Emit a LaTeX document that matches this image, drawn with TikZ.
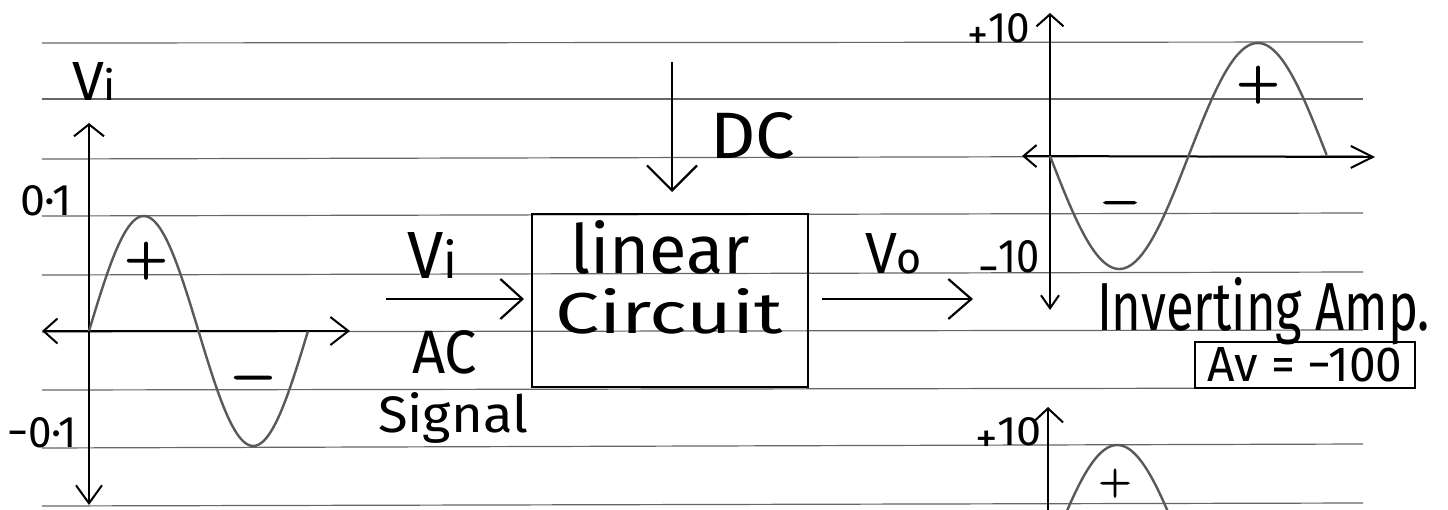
\documentclass[tikz,border=0pt]{standalone}
\usepackage{fontspec}
\newfontfamily\hand{Fira Sans}
\newfontfamily\signfont{Latin Modern Sans}[FakeBold=3]
\usetikzlibrary{arrows.meta}
\newcommand\fitt[3]{\resizebox{#1pt}{#2pt}{#3}}
\begin{document}
\begin{tikzpicture}[x=1pt,y=-1pt,
  every node/.style={inner sep=0pt, outer sep=0pt},
  txt/.style={font=\hand\fontsize{40}{44}\selectfont, anchor=base west},
  signmark/.style={font=\signfont\fontsize{58}{58}\selectfont, anchor=mid},
  rule/.style={black!60, line width=1.2pt},
  axis/.style={black, line width=2pt},
  wave/.style={black!65, line width=2.4pt},
  arr/.style={black, line width=2.2pt},
  boxline/.style={draw=black, line width=1.8pt}]
\useasboundingbox (0,0) rectangle (1448,509);
\fill[white] (0,0) rectangle (1448,509);

% ruled paper
\foreach \yl/\yr in {43/42, 99/99, 159/156, 216/213, 275/272, 332/330, 390/388, 448/444, 506/503}
  \draw[rule] (42,\yl) -- (1363,\yr);

% ---------- left graph (input) ----------
\coordinate (LvT) at (89,123);
\coordinate (LvB) at (89,505);
\coordinate (LhL) at (42,331);
\coordinate (LhR) at (350,331);
\draw[axis, {Straight Barb[length=12pt,width=30pt]}-{Straight Barb[length=18pt,width=26pt]}] (LvT) -- (LvB);
\draw[axis, {Straight Barb[length=14pt,width=25pt]}-{Straight Barb[length=18pt,width=28pt]}] (LhL) -- (LhR);
\draw[wave] plot[domain=0:1, samples=90, smooth] ({89+219*\x},{331-115*sin(360*\x)});
\node[txt] (viL) at (72,100) {\fitt{44}{38}{V{\fontsize{30}{30}\selectfont i}}};
\node[txt] (p01) at (20,215) {\fitt{52}{30}{0·1}};
\node[txt] (m01) at (7,447) {\fitt{70}{30}{−0·1}};
\node[signmark] (plL) at (146,273) {+};
\node[signmark] (miL) at (253,390) {−};

% ---------- middle block ----------
\node[boxline, minimum width=276pt, minimum height=173pt] (lc) at (670,300.5) {};
\node[txt] (lin) at (570,273) {\fitt{180}{53}{linear}};
\node[txt] (cir) at (555,333) {\fitt{228}{45}{Circuit}};

\coordinate (vin) at (386,299);
\draw[arr, shorten >=8pt, -{Straight Barb[length=22pt,width=40pt]}] (vin) -- (vin -| lc.west);
\node[txt] (viM) at (407,278) {\fitt{50}{46}{V{\fontsize{30}{30}\selectfont i}}};
\node[txt] (ac) at (412,373) {\fitt{65}{43}{AC}};
\node[txt] (sig) at (378,432) {\fitt{150}{40}{Signal}};

\coordinate (dcs) at (672,62);
\draw[arr, shorten >=22pt, -{Straight Barb[length=25pt,width=50pt]}] (dcs) -- (dcs |- lc.north);
\node[txt] (dc) at (710,158) {\fitt{85}{46}{DC}};

\coordinate (vout) at (973,299);
\draw[arr, shorten <=14pt, -{Straight Barb[length=23pt,width=40pt]}] (vout -| lc.east) -- (vout);
\node[txt] (vo) at (865,273) {\fitt{57}{40}{V{\fontsize{30}{30}\selectfont o}}};

% ---------- top-right graph (output) ----------
\coordinate (RvB) at (1050,310);
\coordinate (RvT) at (1050,13);
\coordinate (RhL) at (1022,156);
\coordinate (RhR) at (1375,157);
\draw[axis, {Straight Barb[length=13pt,width=18pt]}-{Straight Barb[length=12pt,width=27pt]}] (RvB) -- (RvT);
\draw[axis, {Straight Barb[length=13pt,width=22pt]}-{Straight Barb[length=22pt,width=22pt]}] (RhL) -- (RhR);
\draw[wave] plot[domain=0:1, samples=100, smooth] ({1050+277*\x},{156+113*sin(360*\x)});
\node[txt] (p10) at (967,42) {\fitt{63}{29}{\raisebox{-7pt}{+}10}};
\node[txt] (m10) at (978,272) {\fitt{62}{32}{\raisebox{-11pt}{−}10}};
\node[signmark] (plR) at (1258,97) {+};
\node[signmark, font=\signfont\fontsize{50}{50}\selectfont] (miR) at (1120,213) {−};
\node[txt] (inv) at (1097,330) {\fitt{333}{53}{Inverting Amp.}};
\node[draw=black, line width=1.5pt, minimum width=220pt, minimum height=46pt, anchor=north west,
      font=\hand\fontsize{40}{44}\selectfont] (av) at (1195,342) {\fitt{195}{34}{Av = −100}};

% ---------- bottom-right graph ----------
\coordinate (BvB) at (1048,520);
\coordinate (BvT) at (1048,407);
\draw[axis, -{Straight Barb[length=14pt,width=30pt]}] (BvB) -- (BvT);
\draw[wave] plot[domain=0:0.51, samples=60, smooth] ({1048+277*\x},{558-113*sin(360*\x)});
\node[txt] (p10b) at (975,445) {\fitt{67}{28}{\raisebox{-7pt}{+}10}};
\node[signmark, font=\signfont\fontsize{44}{44}\selectfont] (plB) at (1115,492) {+};
\end{tikzpicture}
\end{document}
